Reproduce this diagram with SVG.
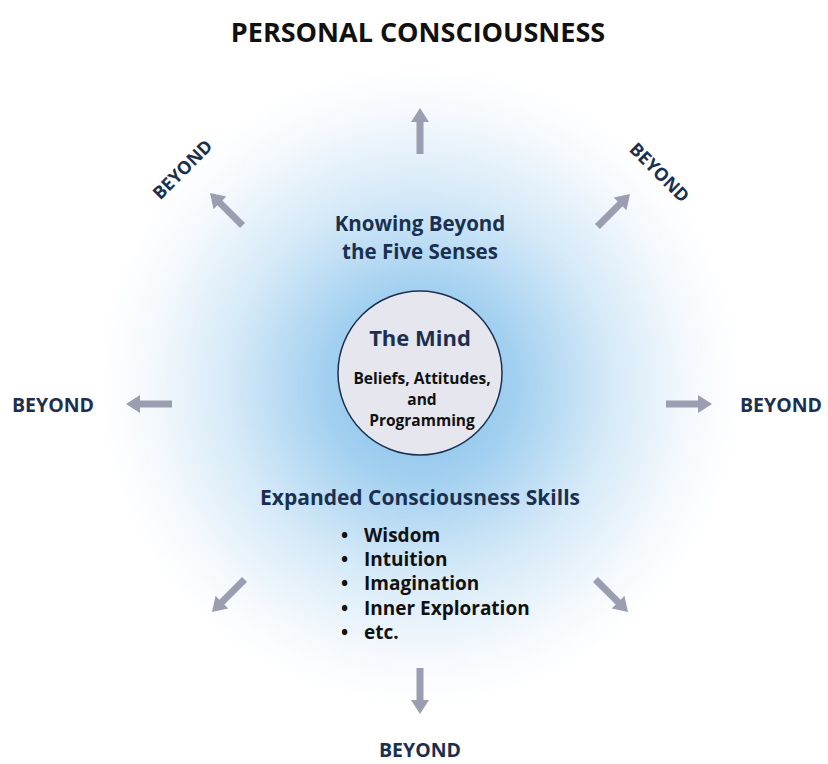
<svg xmlns="http://www.w3.org/2000/svg" width="828" height="764" viewBox="0 0 828 764">
  <defs>
    <radialGradient id="glow" cx="420" cy="385" r="320" gradientUnits="userSpaceOnUse">
      <stop offset="0" stop-color="#7fbde8"/>
      <stop offset="0.3" stop-color="#a3d0f0"/>
      <stop offset="0.6" stop-color="#d6eaf8"/>
      <stop offset="0.85" stop-color="#f5f9fd"/>
      <stop offset="1" stop-color="#ffffff"/>
    </radialGradient>
    <!-- one arrow pointing right, tip at origin -->
    <path id="arrow" d="M-46,-3.5 L-14,-3.5 L-14,-9 L0,0 L-14,9 L-14,3.5 L-46,3.5 Z"/>
  </defs>
  <style>
    .t { font-family: "Open Sans", "DejaVu Sans", sans-serif; font-weight: bold; }
    .navy { fill: #1b3050; }
    .blk { fill: #111111; }
    .arr { fill: #9b9db1; }
  </style>
  <rect width="828" height="764" fill="#ffffff"/>
  <ellipse id="field" cx="420" cy="390" rx="330" ry="320" fill="url(#glow)"/>

  <text class="t blk" x="418" y="42" font-size="27" text-anchor="middle">PERSONAL CONSCIOUSNESS</text>

  <g id="connectors">
    <use href="#arrow" class="arr" transform="translate(420,108) rotate(-90)"/>
    <use href="#arrow" class="arr" transform="translate(712,404)"/>
    <use href="#arrow" class="arr" transform="translate(126,404) rotate(180)"/>
    <use href="#arrow" class="arr" transform="translate(420,714) rotate(90)"/>
    <use href="#arrow" class="arr" transform="translate(210,193) rotate(-135)"/>
    <use href="#arrow" class="arr" transform="translate(630,194) rotate(-45)"/>
    <use href="#arrow" class="arr" transform="translate(212,612) rotate(135)"/>
    <use href="#arrow" class="arr" transform="translate(628,612) rotate(45)"/>
  </g>

  <g id="beyond-labels">
    <text class="t navy" x="12" y="412" font-size="19.5">BEYOND</text>
    <text class="t navy" x="740" y="412" font-size="19.5">BEYOND</text>
    <text class="t navy" x="420" y="757" font-size="19.5" text-anchor="middle">BEYOND</text>
    <text class="t navy" font-size="18" text-anchor="middle" transform="translate(187,174) rotate(-45)">BEYOND</text>
    <text class="t navy" font-size="18" text-anchor="middle" transform="translate(655,177) rotate(45)">BEYOND</text>
  </g>

  <g id="knowing">
    <text class="t navy" x="420" y="231" font-size="20.5" text-anchor="middle">Knowing Beyond</text>
    <text class="t navy" x="420" y="259" font-size="20.5" text-anchor="middle">the Five Senses</text>
  </g>

  <g id="mind">
    <circle cx="420" cy="373" r="82" fill="#e6e6ee" stroke="#1b3050" stroke-width="1.5"/>
    <text class="t navy" x="420" y="346" font-size="22" text-anchor="middle">The Mind</text>
    <text class="t blk" x="422" y="384" font-size="15.5" text-anchor="middle">Beliefs, Attitudes,</text>
    <text class="t blk" x="422" y="405" font-size="15.5" text-anchor="middle">and</text>
    <text class="t blk" x="422" y="426" font-size="15.5" text-anchor="middle">Programming</text>
  </g>

  <g id="skills">
    <text class="t navy" x="420" y="505" font-size="21" text-anchor="middle">Expanded Consciousness Skills</text>
    <g class="t blk" font-size="19">
      <text x="341" y="542">•</text><text x="364" y="542">Wisdom</text>
      <text x="341" y="566">•</text><text x="364" y="566">Intuition</text>
      <text x="341" y="590">•</text><text x="364" y="590">Imagination</text>
      <text x="341" y="615">•</text><text x="364" y="615">Inner Exploration</text>
      <text x="341" y="639">•</text><text x="364" y="639">etc.</text>
    </g>
  </g>
</svg>
